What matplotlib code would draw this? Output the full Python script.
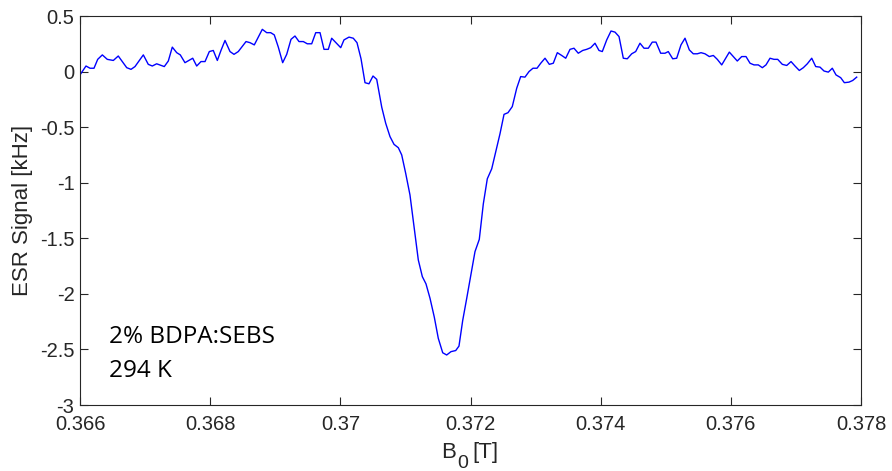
import matplotlib
matplotlib.use("Agg")
import matplotlib.pyplot as plt
import numpy as np

# Magnetic field B0 [T] and ESR signal [kHz]
b0 = [0.366000, 0.366092, 0.366154, 0.366215, 0.366272, 0.366343, 0.366419, 0.366512,
      0.366588, 0.366718, 0.366784, 0.366845, 0.366973, 0.367049, 0.367111, 0.367178,
      0.367295, 0.367357, 0.367418, 0.367486, 0.367541, 0.367613, 0.367732, 0.367793,
      0.367859, 0.367921, 0.367987, 0.368048, 0.368110, 0.368166, 0.368228, 0.368305,
      0.368366, 0.368432, 0.368551, 0.368612, 0.368678, 0.368801, 0.368869, 0.368930,
      0.368985, 0.369047, 0.369114, 0.369176, 0.369242, 0.369303, 0.369365, 0.369431,
      0.369492, 0.369560, 0.369622, 0.369688, 0.369749, 0.369815, 0.369867, 0.369933,
      0.370006, 0.370056, 0.370133, 0.370199, 0.370256, 0.370318, 0.370379, 0.370440,
      0.370502, 0.370559, 0.370636, 0.370697, 0.370763, 0.370825, 0.370891, 0.370943,
      0.371004, 0.371070, 0.371132, 0.371198, 0.371260, 0.371316, 0.371378, 0.371444,
      0.371505, 0.371573, 0.371634, 0.371700, 0.371773, 0.371823, 0.371880, 0.371942,
      0.372008, 0.372069, 0.372135, 0.372197, 0.372258, 0.372326, 0.372392, 0.372453,
      0.372515, 0.372576, 0.372642, 0.372710, 0.372771, 0.372837, 0.372899, 0.372960,
      0.373022, 0.373079, 0.373145, 0.373211, 0.373272, 0.373334, 0.373401, 0.373463,
      0.373529, 0.373590, 0.373656, 0.373724, 0.373785, 0.373847, 0.373913, 0.373974,
      0.374025, 0.374093, 0.374159, 0.374220, 0.374282, 0.374348, 0.374409, 0.374477,
      0.374538, 0.374604, 0.374666, 0.374732, 0.374793, 0.374850, 0.374922, 0.374989,
      0.375039, 0.375107, 0.375168, 0.375234, 0.375296, 0.375362, 0.375423, 0.375485,
      0.375542, 0.375603, 0.375669, 0.375731, 0.375792, 0.375860, 0.375921, 0.375977,
      0.376038, 0.376099, 0.376167, 0.376233, 0.376295, 0.376356, 0.376422, 0.376484,
      0.376540, 0.376602, 0.376663, 0.376720, 0.376791, 0.376859, 0.376925, 0.376986,
      0.377052, 0.377114, 0.377175, 0.377243, 0.377304, 0.377370, 0.377432, 0.377498,
      0.377559, 0.377616, 0.377688, 0.377744, 0.377816, 0.377873, 0.377934]

signal = [-0.03, 0.05, 0.03, 0.03, 0.11, 0.15, 0.11, 0.10,
          0.14, 0.035, 0.02, 0.045, 0.15, 0.065, 0.05, 0.07,
          0.045, 0.095, 0.22, 0.17, 0.15, 0.08, 0.12, 0.05,
          0.09, 0.09, 0.18, 0.19, 0.10, 0.19, 0.28, 0.18,
          0.155, 0.18, 0.27, 0.26, 0.24, 0.38, 0.35, 0.35,
          0.33, 0.22, 0.08, 0.155, 0.29, 0.32, 0.27, 0.27,
          0.25, 0.25, 0.35, 0.35, 0.20, 0.20, 0.30, 0.26,
          0.215, 0.285, 0.31, 0.30, 0.26, 0.115, -0.10, -0.11,
          -0.04, -0.07, -0.32, -0.465, -0.585, -0.655, -0.685, -0.75,
          -0.915, -1.11, -1.395, -1.695, -1.845, -1.91, -2.04, -2.21,
          -2.40, -2.53, -2.55, -2.52, -2.51, -2.47, -2.24, -2.04,
          -1.82, -1.62, -1.51, -1.19, -0.965, -0.875, -0.71, -0.56,
          -0.385, -0.37, -0.315, -0.15, -0.045, -0.05, 0.0, 0.03,
          0.03, 0.075, 0.12, 0.065, 0.075, 0.17, 0.145, 0.12,
          0.20, 0.21, 0.165, 0.19, 0.20, 0.215, 0.255, 0.19,
          0.18, 0.285, 0.365, 0.355, 0.315, 0.12, 0.115, 0.16,
          0.18, 0.255, 0.21, 0.21, 0.265, 0.265, 0.165, 0.165,
          0.18, 0.115, 0.12, 0.24, 0.30, 0.195, 0.16, 0.16,
          0.17, 0.16, 0.135, 0.145, 0.11, 0.06, 0.12, 0.175,
          0.135, 0.095, 0.135, 0.135, 0.075, 0.06, 0.06, 0.035,
          0.06, 0.12, 0.11, 0.11, 0.065, 0.055, 0.09, 0.05,
          0.01, 0.035, 0.07, 0.12, 0.045, 0.04, 0.005, -0.005,
          0.03, -0.03, -0.055, -0.10, -0.095, -0.08, -0.05]

xticks = [0.366, 0.368, 0.370, 0.372, 0.374, 0.376, 0.378]
xticklabels = ["0.366", "0.368", "0.37", "0.372", "0.374", "0.376", "0.378"]
yticks = [0.5, 0, -0.5, -1, -1.5, -2, -2.5, -3]
yticklabels = ["0.5", "0", "-0.5", "-1", "-1.5", "-2", "-2.5", "-3"]
annotation_lines = ["2% BDPA:SEBS", "294 K"]
xlabel_parts = ["B", "0", "[T]"]
ylabel_text = "ESR Signal [kHz]"

plt.rcParams['font.family'] = ['Liberation Sans', 'DejaVu Sans']

axc = '#262626'
W, H = 892, 471
fig = plt.figure(figsize=(W / 100, H / 100), dpi=100)
ax = fig.add_axes([80/W, 1-405/H, (861-80)/W, (405-16)/H])

ax.plot(b0, signal, color='#0000ff', lw=1.0)

ax.set_xlim(0.366, 0.378)
ax.set_ylim(-3, 0.5)
ax.set_xticks(xticks)
ax.set_xticklabels(xticklabels)
ax.set_yticks(yticks)
ax.set_yticklabels(yticklabels)

for sp in ax.spines.values():
    sp.set_color(axc)
    sp.set_linewidth(0.8)
ax.tick_params(direction='in', length=5.5, width=0.8, color=axc, labelcolor=axc,
               labelsize=14.5, top=True, right=True)
ax.tick_params(axis='x', pad=7)
ax.tick_params(axis='y', pad=4)

ax.set_ylabel(ylabel_text, fontsize=16, color=axc, labelpad=5)

# x label with a large, low subscript (as in the reference)
fig.text(441/W, 1-458/H, xlabel_parts[0], fontsize=16, color=axc, ha='left', va='baseline')
fig.text(457/W, 1-468/H, xlabel_parts[1], fontsize=14, color=axc, ha='left', va='baseline')
fig.text(472/W, 1-458/H, xlabel_parts[2], fontsize=16, color=axc, ha='left', va='baseline')

ax.text(0.0371, 0.159, annotation_lines[0], transform=ax.transAxes,
        fontsize=17.5, family=['Open Sans', 'DejaVu Sans'], color='black', va='baseline')
ax.text(0.0371, 0.072, annotation_lines[1], transform=ax.transAxes,
        fontsize=17.5, family=['Open Sans', 'DejaVu Sans'], color='black', va='baseline')

fig.savefig('out.png', dpi=100)
